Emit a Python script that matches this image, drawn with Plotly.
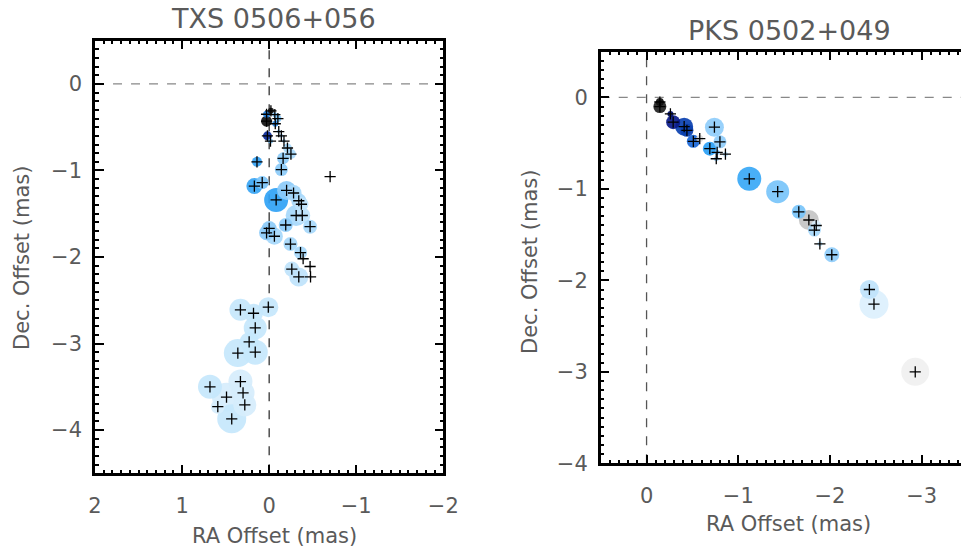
import plotly.graph_objects as go

# ---------------- TXS 0506+056 (left) ----------------
txs_ra = [-0.02, 0.03, 0.03, -0.065, -0.10, -0.07, 0.02, -0.015, -0.11, -0.14, -0.17, -0.21, -0.25,
          0.14, -0.16, -0.14, -0.70, 0.17, 0.08, -0.08, -0.20, -0.28, -0.34, -0.37, -0.31, -0.38,
          -0.19, -0.47, 0.00, 0.03, -0.06, -0.245, -0.36, -0.39, -0.47, -0.26, -0.34, -0.475,
          0.33, 0.18, 0.01, 0.16, 0.23, 0.36, 0.16, 0.68, 0.33, 0.30, 0.49, 0.59, 0.28, 0.43]
txs_dec = [-0.31, -0.35, -0.43, -0.355, -0.40, -0.46, -0.60, -0.66, -0.55, -0.60, -0.66, -0.74, -0.81,
           -0.90, -0.86, -0.99, -1.07, -1.18, -1.14, -1.34, -1.23, -1.26, -1.35, -1.39, -1.52, -1.52,
           -1.63, -1.65, -1.67, -1.72, -1.76, -1.85, -1.95, -2.02, -2.11, -2.14, -2.23, -2.23,
           -2.61, -2.65, -2.58, -2.82, -2.98, -3.11, -3.10, -3.50, -3.44, -3.57, -3.62, -3.73, -3.71, -3.87]
txs_size = [6, 7, 11, 5, 7, 6, 9, 5, 4, 4, 4, 9, 10,
            10, 12, 13, 3, 16, 13, 24, 19, 16, 15, 14, 21, 16,
            14, 14, 15, 15, 17, 14, 13, 4, 4, 15, 19, 4,
            22, 19, 20, 23, 19, 28, 25, 24, 24, 23, 29, 14, 23, 29]
txs_color = ["#111111", "#1e7fe0", "#111111", "#7cc4f8", "#7cc4f8", "#2a8ae8", "#0a2a9a", "#6fb8ee",
             "#9ccff5", "#9ccff5", "#9ccff5", "#a6d8fb", "#a6d8fb",
             "#35a2f3", "#8ccbf8", "#8ccbf8", "#cccccc", "#38a5f4", "#7cc4f8", "#30a2f5", "#8ccbf8",
             "#a6d8fb", "#a6d8fb", "#bfe3fb", "#a6d8fb", "#bfe3fb",
             "#8ccbf8", "#a6d8fb", "#8ccbf8", "#8ccbf8", "#a6d8fb", "#a6d8fb", "#a6d8fb", "#cccccc",
             "#dddddd", "#bfe3fb", "#bfe3fb", "#dddddd",
             "#c6e7fc", "#c6e7fc", "#c6e7fc", "#c6e7fc", "#c6e7fc", "#c6e7fc", "#c6e7fc", "#c6e7fc",
             "#d6edfc", "#d6edfc", "#d6edfc", "#d6edfc", "#d6edfc", "#c6e7fc"]

# ---------------- PKS 0502+049 (right) ----------------
pks_ra = [-0.145, -0.145, -0.26, -0.29, -0.41, -0.44, -0.58, -0.51, -0.74, -0.80, -0.69, -0.77,
          -0.76, -0.86, -1.12, -1.43, -1.66, -1.85, -1.83, -1.77, -1.89, -2.02, -2.43, -2.48, -2.93]
pks_dec = [-0.05, -0.10, -0.18, -0.27, -0.32, -0.36, -0.45, -0.48, -0.325, -0.485, -0.56, -0.60,
           -0.67, -0.62, -0.89, -1.03, -1.25, -1.40, -1.45, -1.34, -1.60, -1.72, -2.10, -2.26, -3.00]
pks_size = [8, 13, 6, 14, 18, 13, 7, 13, 19, 13, 14, 5,
            5, 5, 24, 23, 14, 10, 13, 20, 5, 15, 19, 29, 28]
pks_color = ["#111111", "#222222", "#00106e", "#0a1a8a", "#0a40b0", "#0a40b0", "#dddddd", "#1a68d8",
             "#8fcdfb", "#8fcdfb", "#2aa0f5", "#7cc4f8", "#a6d8fb", "#bfe3fb", "#38a8f6", "#78c4fa",
             "#78c4fa", "#d8eefc", "#a6d8fb", "#c4c4c4", "#bfe3fb", "#8fcdfb", "#bfe3fb", "#dcf0fd",
             "#f0f0f0"]

titles = ["TXS 0506+056", "PKS 0502+049"]
xtick_left = [2, 1, 0, -1, -2]
xtick_right = [0, -1, -2, -3]
ytick_left = [0, -1, -2, -3, -4]
ytick_right = [0, -1, -2, -3, -4]

FONT = "DejaVu Sans"
GREY = "#5a5a5a"

fig = go.Figure()

def add_panel(ra, dec, size, color, xa, ya):
    # draw larger circles first so smaller ones sit on top
    order = sorted(range(len(ra)), key=lambda i: -size[i])
    fig.add_trace(go.Scatter(
        x=[ra[i] for i in order], y=[dec[i] for i in order], mode="markers",
        marker=dict(size=[size[i] for i in order], color=[color[i] for i in order],
                    opacity=0.92, line=dict(width=0)),
        xaxis=xa, yaxis=ya, showlegend=False, hoverinfo="skip", cliponaxis=True))
    fig.add_trace(go.Scatter(
        x=ra, y=dec, mode="markers",
        marker=dict(symbol="cross-thin", size=8, color="black", line=dict(width=1.3, color="black")),
        xaxis=xa, yaxis=ya, showlegend=False, hoverinfo="skip"))

add_panel(txs_ra, txs_dec, txs_size, txs_color, "x", "y")
add_panel(pks_ra, pks_dec, pks_size, pks_color, "x2", "y2")

def axis_common(vals, mirror):
    return dict(
        tickvals=vals, ticktext=[("\u2212" + str(-v)) if v < 0 else str(v) for v in vals],
        ticks="inside", ticklen=9, tickwidth=2, tickcolor="black",
        minor=dict(dtick=0.1, ticks="inside", ticklen=4, tickwidth=1.5, tickcolor="black"),
        showline=True, linewidth=2.5, linecolor="black", mirror=mirror,
        showgrid=False, zeroline=False, automargin=False,
        tickfont=dict(family=FONT, size=21, color=GREY),
    )

fig.update_layout(
    width=961, height=553, margin=dict(l=0, r=0, t=0, b=0, autoexpand=False),
    paper_bgcolor="white", plot_bgcolor="white",
    xaxis=dict(domain=[0.0989, 0.4613], range=[2, -2], anchor="y", ticklabelstandoff=12,
               **axis_common(xtick_left, "ticks")),
    yaxis=dict(domain=[0.1441, 0.9264], range=[-4.5, 0.5], anchor="x", ticklabelstandoff=6,
               **axis_common(ytick_left, "ticks")),
    xaxis2=dict(domain=[0.6251, 1.0], range=[0.5, -3.429], anchor="y2", ticklabelstandoff=12,
                **axis_common(xtick_right, "ticks")),
    yaxis2=dict(domain=[0.1622, 0.9065], range=[-4, 0.5], anchor="x2", ticklabelstandoff=6,
                **axis_common(ytick_right, False)),
)

# dashed reference lines through the origin
fig.add_shape(type="line", xref="x", yref="y", x0=0, x1=0, y0=-4.5, y1=0.5,
              line=dict(color="#333333", width=1.3, dash="dash"), layer="below")
fig.add_shape(type="line", xref="x", yref="y", x0=2, x1=-2, y0=0, y1=0,
              line=dict(color="#888888", width=1.3, dash="dash"), layer="below")
fig.add_shape(type="line", xref="x2", yref="y2", x0=0, x1=0, y0=-4, y1=0.5,
              line=dict(color="#555555", width=1.3, dash="dash"), layer="below")
fig.add_shape(type="line", xref="x2", yref="y2", x0=0.5, x1=-3.429, y0=0, y1=0,
              line=dict(color="#888888", width=1.3, dash="dash"), layer="below")

ann = []
ann.append(dict(text=titles[0], x=273, y=553 - 1, yanchor="top"))
ann.append(dict(text=titles[1], x=789, y=553 - 13, yanchor="top"))
for a in ann:
    a["x"] = a["x"] / 961
    a["y"] = a["y"] / 553
    a.update(showarrow=False, font=dict(family=FONT, size=27, color=GREY),
             xanchor="center", xref="paper", yref="paper")
ann.append(dict(text="RA Offset (mas)", x=274 / 961, y=1 - 536 / 553, xref="paper", yref="paper",
                showarrow=False, font=dict(family=FONT, size=21, color=GREY),
                xanchor="center", yanchor="middle"))
ann.append(dict(text="RA Offset (mas)", x=788 / 961, y=1 - 524 / 553, xref="paper", yref="paper",
                showarrow=False, font=dict(family=FONT, size=21, color=GREY),
                xanchor="center", yanchor="middle"))
ann.append(dict(text="Dec. Offset (mas)", x=22 / 961, y=1 - 258 / 553, xref="paper", yref="paper",
                showarrow=False, textangle=-90, font=dict(family=FONT, size=21, color=GREY),
                xanchor="center", yanchor="middle"))
ann.append(dict(text="Dec. Offset (mas)", x=530 / 961, y=1 - 262 / 553, xref="paper", yref="paper",
                showarrow=False, textangle=-90, font=dict(family=FONT, size=21, color=GREY),
                xanchor="center", yanchor="middle"))
fig.update_layout(annotations=ann)

fig.write_html("out.html", config={"displayModeBar": False},
               post_script="document.body.style.margin='0';document.body.style.overflow='hidden';")
